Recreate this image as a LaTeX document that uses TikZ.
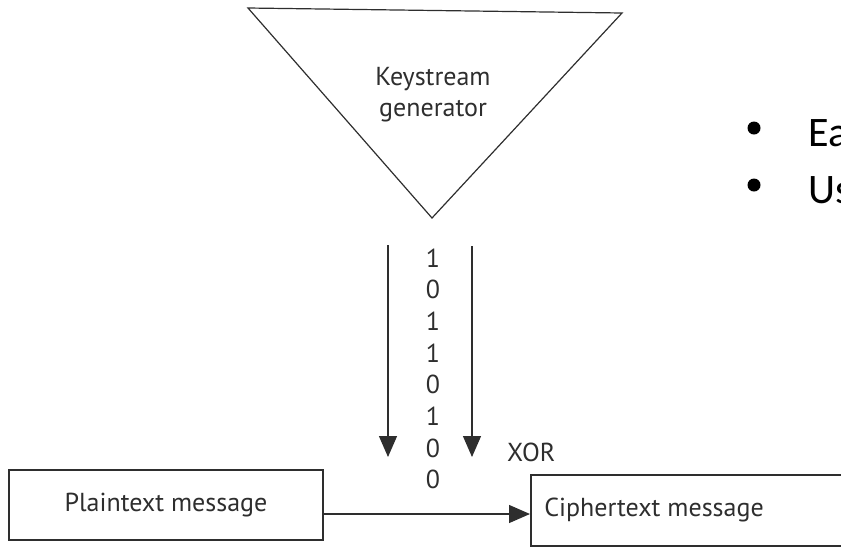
\documentclass[tikz,border=0pt]{standalone}
\usepackage{fontspec}
\setmainfont{PT Sans}
\newfontfamily\slidefont{Carlito}
\usetikzlibrary{arrows.meta}
\definecolor{ink}{HTML}{2E2E2E}
\tikzset{
  lbl/.style={text=ink, font=\fontsize{26}{30}\selectfont, inner sep=0pt},
  msgbox/.style={draw=ink, line width=1.5pt},
  flow/.style={draw=ink, line width=1.3pt, -{Triangle[width=18pt,length=21pt]}},
  bulletdot/.style={circle, fill=black, inner sep=0pt, minimum size=13pt},
  slide/.style={font=\slidefont\fontsize{42}{50}\selectfont, text=black, inner sep=0pt, anchor=base west}
}
\begin{document}
\begin{tikzpicture}[x=1pt,y=-1pt]
\useasboundingbox (0,0) rectangle (841,550);
\clip (0,0) rectangle (841,550);
% keystream generator triangle
\coordinate (tl) at (248,8);
\coordinate (tr) at (622,13);
\coordinate (tv) at (432,218);
\draw[ink, line width=1.2pt, line join=miter] (tl) -- (tr) -- (tv) -- cycle;
\node[lbl, anchor=base] (k1) at (433,85) {Keystream};
\node[lbl, anchor=base] (k2) at (433,116) {generator};
% keystream arrows
\coordinate (l1) at (388,245);
\coordinate (l2) at (388,457);
\coordinate (r1) at (472,246);
\coordinate (r2) at (472,457);
\draw[flow] (l1) -- (l2);
\draw[flow] (r1) -- (r2);
% bits
\foreach \b [count=\i from 0] in {1,0,1,1,0,1,0,0}
  \node[lbl, anchor=base] (bit\i) at (433,{267+31.7*\i}) {\b};
\node[lbl, anchor=base west] (xor) at (507,461) {XOR};
% messages
\node[msgbox, minimum width=314pt, minimum height=70pt, inner sep=0pt] (plain) at (166,505) {};
\node[lbl] (ptext) at (plain.center) {Plaintext message};
\node[msgbox, minimum width=330pt, minimum height=71pt, inner sep=0pt, anchor=north west] (cipher) at (530,474) {};
\node[lbl] (ctext) at (654,510) {Ciphertext message};
\draw[flow] (plain.east |- 0,514) -- (cipher.west |- 0,514);
% slide bullets (clipped)
\node[bulletdot] (b1) at (754,128) {};
\node[bulletdot] (b2) at (754,185) {};
\node[slide] (t1) at (808,146) {Ea};
\node[slide] (t2) at (808,203) {Us};
\end{tikzpicture}
\end{document}
